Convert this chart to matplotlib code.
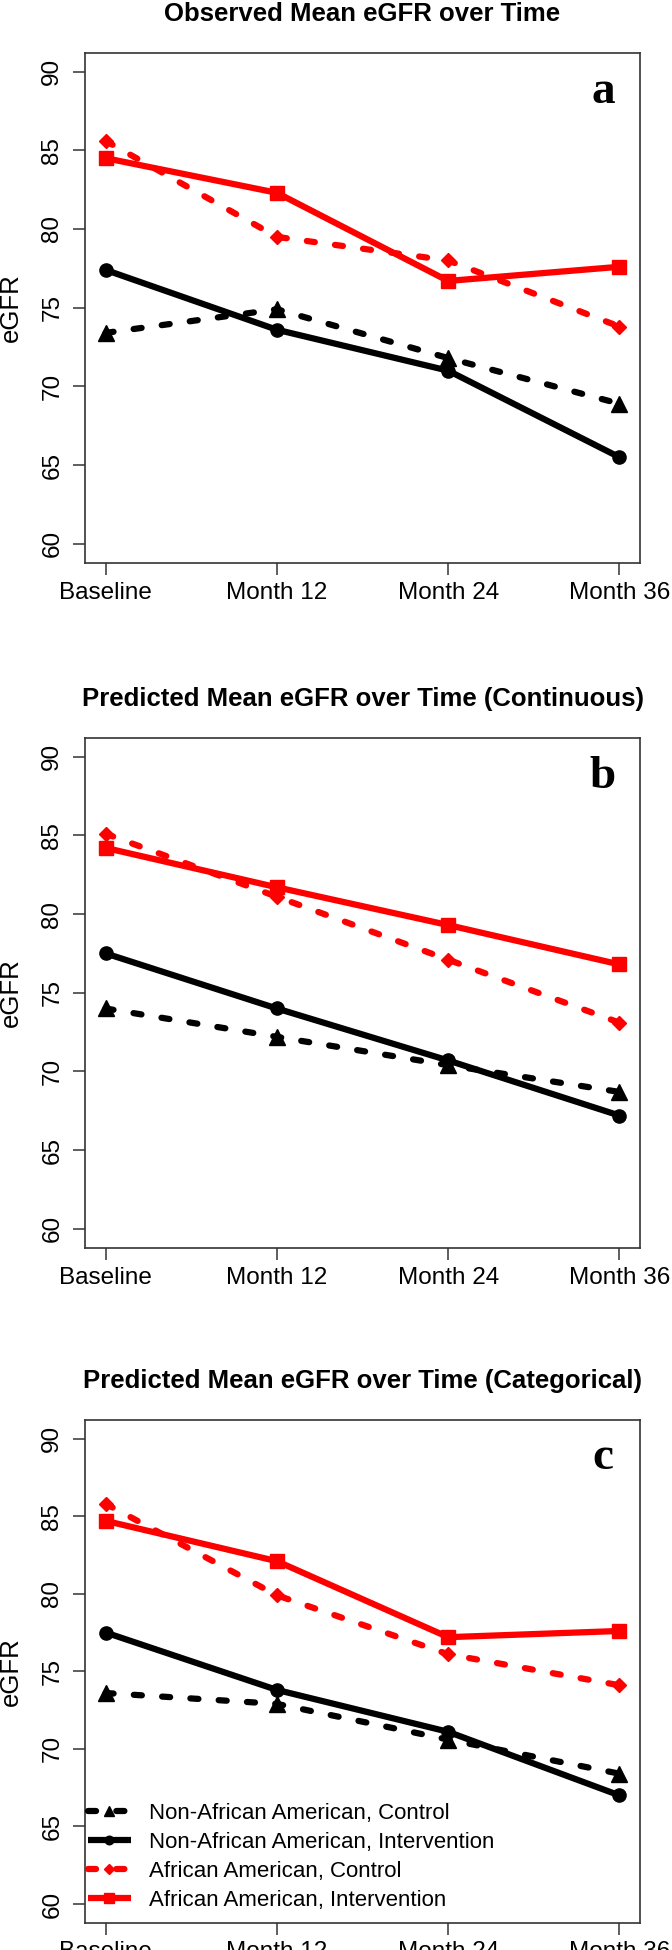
import numpy as np
import matplotlib
matplotlib.use("Agg")
import matplotlib.pyplot as plt

plt.rcParams['font.family'] = ['Liberation Sans', 'DejaVu Sans']
plt.rcParams['lines.scale_dashes'] = False

# time points on the x axis
timepoints = ["Baseline", "Month 12", "Month 24", "Month 36"]

# panel a: observed means
obs_nonaa_ctrl = [73.4, 74.9, 71.8, 68.9]
obs_nonaa_int = [77.4, 73.6, 71.0, 65.5]
obs_aa_ctrl = [85.6, 79.5, 78.0, 73.8]
obs_aa_int = [84.5, 82.3, 76.7, 77.6]

# panel b: predicted (continuous time)
cont_nonaa_ctrl = [74.0, 72.2, 70.4, 68.7]
cont_nonaa_int = [77.5, 74.0, 70.7, 67.2]
cont_aa_ctrl = [85.1, 81.1, 77.1, 73.1]
cont_aa_int = [84.2, 81.7, 79.3, 76.8]

# panel c: predicted (categorical time)
cat_nonaa_ctrl = [73.6, 72.9, 70.6, 68.4]
cat_nonaa_int = [77.5, 73.8, 71.1, 67.0]
cat_aa_ctrl = [85.8, 79.9, 76.1, 74.1]
cat_aa_int = [84.7, 82.1, 77.2, 77.6]

group_labels = ["Non-African American, Control", "Non-African American, Intervention",
                "African American, Control", "African American, Intervention"]

titles = ["Observed Mean eGFR over Time",
          "Predicted Mean eGFR over Time (Continuous)",
          "Predicted Mean eGFR over Time (Categorical)"]
panel_tags = ["a", "b", "c"]

panels = [
    [obs_nonaa_ctrl, obs_nonaa_int, obs_aa_ctrl, obs_aa_int],
    [cont_nonaa_ctrl, cont_nonaa_int, cont_aa_ctrl, cont_aa_int],
    [cat_nonaa_ctrl, cat_nonaa_int, cat_aa_ctrl, cat_aa_int],
]

# style of each group: colour, dashed?, marker, markersize
styles = [
    ("black", True, "^", 11),
    ("black", False, "o", 9.5),
    ("red", True, "D", 7.5),
    ("red", False, "s", 10.5),
]

DASH = (0, (5.8, 14.6))

fig = plt.figure(figsize=(6.72, 19.5), dpi=100)

# axes boxes measured in pixels: (top, bottom)
boxes = [(52.7, 562.7), (737.7, 1247.8), (1420.0, 1922.6)]
W, H = 672.0, 1950.0
left_px, right_px = 85.0, 640.0

x = np.arange(1, len(timepoints) + 1)

for k, (top, bottom) in enumerate(boxes):
    ax = fig.add_axes([left_px / W, 1 - bottom / H, (right_px - left_px) / W, (bottom - top) / H])
    handles = []
    for series, (col, dashed, mk, ms) in zip(panels[k], styles):
        ls = DASH if dashed else '-'
        h, = ax.plot(x, series, color=col, linestyle=ls, linewidth=4.5,
                     marker=mk, markersize=ms, markerfacecolor=col, markeredgecolor=col,
                     dash_capstyle='round', solid_capstyle='butt')
        handles.append(h)

    ax.set_xlim(0.88, 4.12)
    ax.set_ylim(58.8, 91.2)
    ax.set_xticks(x)
    ax.set_xticklabels(timepoints)
    ax.set_yticks([60, 65, 70, 75, 80, 85, 90])
    ax.set_yticklabels([60, 65, 70, 75, 80, 85, 90], rotation=90, va='center')
    ax.tick_params(axis='both', length=8.6, width=1.1, color='#333333', labelsize=17.5)
    ax.tick_params(axis='x', pad=5)
    ax.tick_params(axis='y', pad=7)
    for sp in ax.spines.values():
        sp.set_linewidth(1.2)
        sp.set_color('#333333')

    ax.set_ylabel("eGFR", fontsize=18.5, va='center')
    ax.yaxis.set_label_coords(-0.134, 0.5)
    ax.set_title(titles[k], fontsize=18.5, fontweight='bold', pad=23)
    ax.text(0.933, 0.902, panel_tags[k], transform=ax.transAxes, ha='center', va='baseline',
            fontsize=34, fontweight='bold', family=['Liberation Serif', 'DejaVu Serif'])

    if k == 2:
        ax.legend(handles, group_labels, loc='center left', bbox_to_anchor=(0.005, 0.1305),
                  frameon=False, fontsize=16, handlelength=1.95, handletextpad=0.8,
                  labelspacing=0.36, borderpad=0, borderaxespad=0, markerscale=0.65,
                  numpoints=1)

fig.savefig("out.png", dpi=100)
